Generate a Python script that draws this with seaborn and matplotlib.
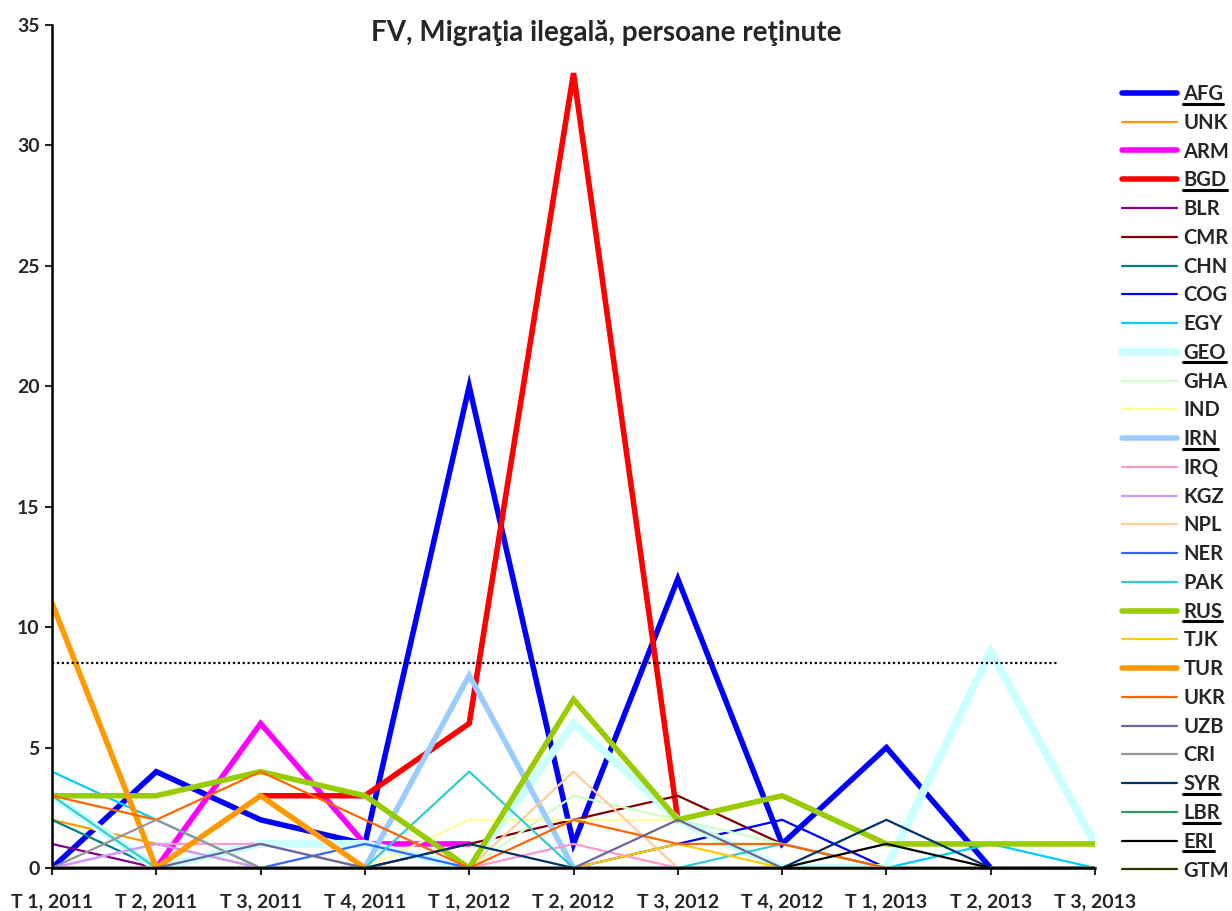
import numpy as np
import pandas as pd
import seaborn as sns
import matplotlib.pyplot as plt
from matplotlib.lines import Line2D

nan = np.nan

quarters = ["T 1, 2011", "T 2, 2011", "T 3, 2011", "T 4, 2011",
            "T 1, 2012", "T 2, 2012", "T 3, 2012", "T 4, 2012",
            "T 1, 2013", "T 2, 2013", "T 3, 2013"]

AFG = [0, 4, 2, 1, 20, 1, 12, 1, 5, 0, nan]
UNK = [2, 1, 0, 0, 0, 0, 0, 0, 0, 0, 0]
ARM = [nan, 0, 6, 1, 1, nan, nan, nan, nan, nan, nan]
BGD = [nan, nan, 3, 3, 6, 33, 2, nan, nan, nan, nan]
BLR = [1, 0, 0, 0, 0, 0, 0, 0, 0, 0, 0]
CMR = [0, 0, 0, 0, 1, 2, 3, 1, 0, 0, 0]
CHN = [2, 0, 0, 0, 0, 0, 0, 0, 0, 0, 0]
COG = [0, 0, 0, 0, 0, 0, 1, 2, 0, 0, 0]
EGY = [4, 2, 0, 0, 0, 0, 0, 0, 0, 1, 0]
GEO = [3, 0, 1, 1, 0, 6, 2, 0, 0, 9, 1]
GHA = [0, 0, 0, 0, 0, 3, 2, 1, 0, 0, 0]
IND = [0, 0, 0, 0, 2, 2, 2, 0, 0, 0, 0]
IRN = [nan, nan, nan, 0, 8, 0, nan, nan, nan, nan, nan]
IRQ = [0, 1, 1, 0, 0, 1, 0, 0, 0, 0, 0]
KGZ = [0, 1, 0, 0, 0, 0, 0, 0, 0, 0, 0]
NPL = [0, 0, 0, 0, 0, 4, 0, 0, 0, 0, 0]
NER = [0, 0, 0, 1, 0, 0, 0, 0, 0, 0, 0]
PAK = [3, 0, 0, 0, 4, 0, 0, 1, 0, 0, 0]
RUS = [3, 3, 4, 3, 0, 7, 2, 3, 1, 1, 1]
TJK = [0, 0, 0, 0, 0, 0, 1, 0, 0, 0, 0]
TUR = [11, 0, 3, 0, nan, nan, nan, nan, nan, nan, nan]
UKR = [3, 2, 4, 2, 0, 2, 1, 1, 0, 0, 0]
UZB = [0, 0, 1, 0, 0, 0, 2, 0, 0, 0, 0]
CRI = [0, 2, 0, 0, 0, 0, 0, 0, 0, 0, 0]
SYR = [0, 0, 0, 0, 1, 0, 0, 0, 2, 0, 0]
LBR = [0, 0, 0, 0, 0, 0, 0, 0, 0, 0, 0]
ERI = [0, 0, 0, 0, 0, 0, 0, 0, 1, 0, 0]
GTM = [0, 0, 0, 0, 0, 0, 0, 0, 0, 0, 0]

average_level = 8.5

series = {"AFG": AFG, "UNK": UNK, "ARM": ARM, "BGD": BGD, "BLR": BLR,
          "CMR": CMR, "CHN": CHN, "COG": COG, "EGY": EGY, "GEO": GEO,
          "GHA": GHA, "IND": IND, "IRN": IRN, "IRQ": IRQ, "KGZ": KGZ,
          "NPL": NPL, "NER": NER, "PAK": PAK, "RUS": RUS, "TJK": TJK,
          "TUR": TUR, "UKR": UKR, "UZB": UZB, "CRI": CRI, "SYR": SYR,
          "LBR": LBR, "ERI": ERI, "GTM": GTM}

colors = {"AFG": "#0000FF", "UNK": "#FF9900", "ARM": "#FF00FF", "BGD": "#FF0000",
          "BLR": "#800080", "CMR": "#800000", "CHN": "#008080", "COG": "#0000FF",
          "EGY": "#00CCFF", "GEO": "#CCFFFF", "GHA": "#CCFFCC", "IND": "#FFFF99",
          "IRN": "#99CCFF", "IRQ": "#FF99CC", "KGZ": "#CC99FF", "NPL": "#FFCC99",
          "NER": "#3366FF", "PAK": "#33CCCC", "RUS": "#99CC00", "TJK": "#FFCC00",
          "TUR": "#FF9900", "UKR": "#FF6600", "UZB": "#666699", "CRI": "#969696",
          "SYR": "#003366", "LBR": "#339966", "ERI": "#000000", "GTM": "#333300"}

thick = {"AFG": 4.0, "ARM": 4.0, "BGD": 4.0, "GEO": 5.8, "IRN": 4.0,
         "RUS": 4.0, "TUR": 4.0}
underlined = ["AFG", "BGD", "GEO", "IRN", "RUS", "SYR", "LBR", "ERI"]

sns.set_style("white")
plt.rcParams['font.family'] = ['Lato', 'DejaVu Sans']
plt.rcParams['font.weight'] = 'bold'

fig = plt.figure(figsize=(12.32, 9.11), dpi=100)
ax = fig.add_axes([52/1232, 43/911, 1043/1232, 843/911])

xs = np.arange(len(quarters))
handles = []
for name, vals in series.items():
    df = pd.DataFrame({"x": xs, "y": vals}).dropna()
    lw = thick.get(name, 1.6)
    sns.lineplot(data=df, x="x", y="y", ax=ax, color=colors[name], lw=lw,
                 legend=False, solid_joinstyle="miter")
    handles.append(Line2D([], [], color=colors[name], lw=lw, label=name))

ax.hlines(average_level, 0, 9.65, colors="black", linestyles=(0, (1, 1.2)), lw=1.6)

ax.set_xlim(0, 10)
ax.set_ylim(0, 35)
ax.set_xticks(xs)
ax.set_xticklabels(quarters, fontsize=14, fontweight="bold")
ax.set_yticks(range(0, 36, 5))
ax.tick_params(axis="y", labelsize=14, length=5, width=1.5, direction="out", left=True, pad=4)
ax.tick_params(axis="x", length=5, width=1.5, direction="out", bottom=True, pad=13)
ax.set_xlabel("")
ax.set_ylabel("")
for side in ["top", "right"]:
    ax.spines[side].set_visible(False)
for side in ["left", "bottom"]:
    ax.spines[side].set_color("black")
    ax.spines[side].set_linewidth(1.8)

fig.text(606/1232, 1 - 33/911, "FV, Migraţia ilegală, persoane reţinute",
         ha="center", va="center", fontsize=20, fontweight="bold")

leg = fig.legend(handles=handles, loc="upper left",
                 bbox_to_anchor=(1122/1232, 1 - 84/911), bbox_transform=fig.transFigure,
                 frameon=False, fontsize=14.5, handlelength=2.75, handletextpad=0.3,
                 labelspacing=0.435, borderpad=0, borderaxespad=0)
for t in leg.get_texts():
    t.set_fontweight("bold")

# underline some legend labels
fig.canvas.draw()
inv = fig.transFigure.inverted()
for t in leg.get_texts():
    if t.get_text() in underlined:
        bb = t.get_window_extent()
        (x0, y0), (x1, _) = inv.transform([(bb.x0, bb.y0 + 0.5), (bb.x1, bb.y0 + 0.5)])
        fig.add_artist(Line2D([x0, x1], [y0, y0], color="black", lw=2.2,
                              transform=fig.transFigure))

fig.savefig("out.png", dpi=100)
